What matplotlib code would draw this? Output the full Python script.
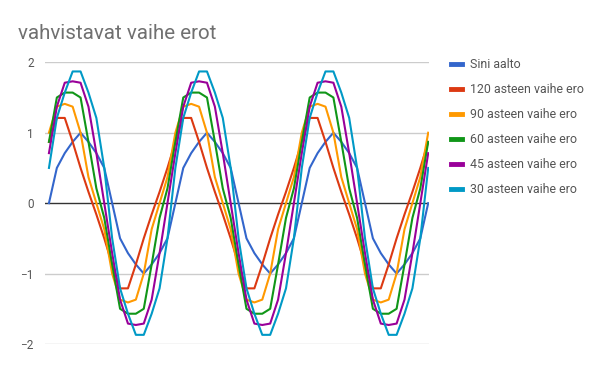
import matplotlib.pyplot as plt

plt.rcParams['font.family'] = ['Roboto', 'DejaVu Sans']

# x categories: angle in degrees (three full turns)
angles = [0, 30, 45, 60, 90, 120, 135, 150, 180, 210, 225, 240, 270, 300, 315, 330,
          360, 390, 405, 420, 450, 480, 495, 510, 540, 570, 585, 600, 630, 660, 675, 690,
          720, 750, 765, 780, 810, 840, 855, 870, 900, 930, 945, 960, 990, 1020, 1035, 1050,
          1080]

sini = [0, 0.5, 0.71, 0.87, 1, 0.87, 0.71, 0.5, 0, -0.5, -0.71, -0.87, -1, -0.87, -0.71, -0.5,
        0, 0.5, 0.71, 0.87, 1, 0.87, 0.71, 0.5, 0, -0.5, -0.71, -0.87, -1, -0.87, -0.71, -0.5,
        0, 0.5, 0.71, 0.87, 1, 0.87, 0.71, 0.5, 0, -0.5, -0.71, -0.87, -1, -0.87, -0.71, -0.5,
        0]
ero120 = [0.87, 1.21, 1.21, 0.87, 0.5, 0.16, -0.16, -0.5, -0.87, -1.21, -1.21, -0.87, -0.5, -0.16, 0.16, 0.5,
          0.87, 1.21, 1.21, 0.87, 0.5, 0.16, -0.16, -0.5, -0.87, -1.21, -1.21, -0.87, -0.5, -0.16, 0.16, 0.5,
          0.87, 1.21, 1.21, 0.87, 0.5, 0.16, -0.16, -0.5, -0.87, -1.21, -1.21, -0.87, -0.5, -0.16, 0.16, 0.5,
          0.87]
ero90 = [1, 1.37, 1.41, 1.37, 1, 0.37, 0, -0.37, -1, -1.37, -1.41, -1.37, -1, -0.37, 0, 0.37,
         1, 1.37, 1.41, 1.37, 1, 0.37, 0, -0.37, -1, -1.37, -1.41, -1.37, -1, -0.37, 0, 0.37,
         1, 1.37, 1.41, 1.37, 1, 0.37, 0, -0.37, -1, -1.37, -1.41, -1.37, -1, -0.37, 0, 0.37,
         1]
ero60 = [0.87, 1.5, 1.57, 1.57, 1.5, 0.87, 0.21, -0.21, -0.87, -1.5, -1.57, -1.57, -1.5, -0.87, -0.21, 0.21,
         0.87, 1.5, 1.57, 1.57, 1.5, 0.87, 0.21, -0.21, -0.87, -1.5, -1.57, -1.57, -1.5, -0.87, -0.21, 0.21,
         0.87, 1.5, 1.57, 1.57, 1.5, 0.87, 0.21, -0.21, -0.87, -1.5, -1.57, -1.57, -1.5, -0.87, -0.21, 0.21,
         0.87]
ero45 = [0.71, 1.37, 1.71, 1.73, 1.71, 1.37, 0.71, 0, -0.71, -1.37, -1.71, -1.73, -1.71, -1.37, -0.71, 0,
         0.71, 1.37, 1.71, 1.73, 1.71, 1.37, 0.71, 0, -0.71, -1.37, -1.71, -1.73, -1.71, -1.37, -0.71, 0,
         0.71, 1.37, 1.71, 1.73, 1.71, 1.37, 0.71, 0, -0.71, -1.37, -1.71, -1.73, -1.71, -1.37, -0.71, 0,
         0.71]
ero30 = [0.5, 1.21, 1.57, 1.87, 1.87, 1.57, 1.21, 0.5, -0.5, -1.21, -1.57, -1.87, -1.87, -1.57, -1.21, -0.5,
         0.5, 1.21, 1.57, 1.87, 1.87, 1.57, 1.21, 0.5, -0.5, -1.21, -1.57, -1.87, -1.87, -1.57, -1.21, -0.5,
         0.5, 1.21, 1.57, 1.87, 1.87, 1.57, 1.21, 0.5, -0.5, -1.21, -1.57, -1.87, -1.87, -1.57, -1.21, -0.5,
         0.5]

series = [
    ('Sini aalto', sini, '#3366cc'),
    ('120 asteen vaihe ero', ero120, '#dc3912'),
    ('90 asteen vaihe ero', ero90, '#ff9900'),
    ('60 asteen vaihe ero', ero60, '#109618'),
    ('45 asteen vaihe ero', ero45, '#990099'),
    ('30 asteen vaihe ero', ero30, '#0099c6'),
]

fig = plt.figure(figsize=(6, 3.71), dpi=100)
ax = fig.add_axes([45 / 600, 1 - 344 / 371, 384 / 600, (344 - 62.3) / 371])

x = list(range(len(angles)))
for label, vals, color in series:
    ax.plot(x, vals, color=color, lw=1.5, label=label, zorder=3)

ax.set_xlim(-0.5, 48.1)
ax.set_ylim(-2, 2)
ax.set_yticks([-2, -1, 0, 1, 2])
ax.set_yticklabels(['\u22122', '\u22121', '0', '1', '2'])
ax.set_xticks([])
for v in [-2, -1, 1, 2]:
    ax.axhline(v, color='#cccccc', lw=1, zorder=1)
ax.axhline(0, color='#333333', lw=1, zorder=2)
for s in ax.spines.values():
    s.set_visible(False)
ax.tick_params(axis='y', length=0, pad=8, labelsize=8.5, labelcolor='#555555')

fig.text(18 / 600, 1 - 39 / 371, 'vahvistavat vaihe erot', fontsize=14.8, color='#707070')

ax.legend(loc='upper left', bbox_to_anchor=(446 / 600, 1 - 53 / 371),
          bbox_transform=fig.transFigure, frameon=False, fontsize=8.9,
          labelcolor='#555555', handlelength=0.9, handletextpad=0.65,
          labelspacing=0.97, borderaxespad=0)
for h in ax.get_legend().get_lines():
    h.set_linewidth(3.5)

fig.savefig('out.png', dpi=100)
